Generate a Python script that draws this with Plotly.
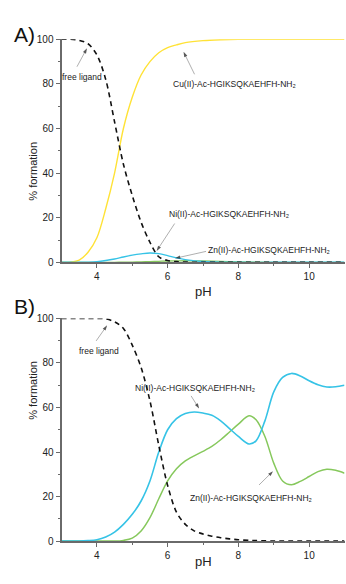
import plotly.graph_objects as go

# ---- species distribution, panel A (Cu/Ni/Zn competition) ----
ph_a = [3.0, 3.25, 3.5, 3.75, 4.0, 4.25, 4.5, 4.75, 5.0, 5.25, 5.5, 5.75,
        6.0, 6.25, 6.5, 7.0, 7.5, 8.0, 9.0, 10.0, 11.0]
free_a = [100, 100, 99.5, 98, 93, 82, 63, 44, 30, 18, 9, 2.5,
          0.8, 0.3, 0.1, 0, 0, 0, 0, 0, 0]
cu_a = [0, 0.1, 1, 4.5, 11, 24, 40, 60, 74, 84, 90, 94,
        96.3, 97.5, 98.5, 99.4, 99.8, 100, 100, 100, 100]
ni_a = [0, 0, 0, 0.1, 0.3, 0.8, 1.5, 2.4, 3.2, 3.8, 4.2, 3.9,
        3.0, 2.0, 1.2, 0.4, 0.1, 0, 0, 0, 0]
zn_a = [0, 0, 0, 0, 0, 0, 0, 0.05, 0.1, 0.2, 0.3, 0.45,
        0.6, 0.65, 0.7, 0.6, 0.4, 0.2, 0, 0, 0]

# ---- species distribution, panel B (Ni/Zn competition) ----
ph_b = [3.0, 3.5, 3.75, 4.0, 4.25, 4.5, 4.75, 5.0, 5.25, 5.5, 5.75, 6.0,
        6.25, 6.5, 6.75, 7.0, 7.25, 7.5, 7.75, 8.0, 8.3, 8.5, 8.75, 9.0,
        9.25, 9.5, 9.75, 10.0, 10.25, 10.5, 10.75, 11.0]
free_b = [100, 100, 100, 100, 99.8, 98.5, 95.5, 88, 78, 63, 43, 25,
          13, 7.5, 4.6, 3.2, 2.2, 1.5, 1.0, 0.6, 0.3, 0.2, 0.1, 0.05,
          0, 0, 0, 0, 0, 0, 0, 0]
ni_b = [0, 0, 0.2, 0.6, 1.8, 4, 7.5, 12, 18, 27, 40, 50,
        55, 57.3, 58, 57.5, 56.5, 54, 50.5, 47, 43.6, 45, 54, 67,
        73.5, 75.3, 74.2, 72, 70.2, 69.2, 69.3, 70]
zn_b = [0, 0, 0, 0, 0, 0, 0.3, 1.3, 4.5, 10.5, 19, 27,
        32.5, 36, 38.3, 40.3, 42.5, 45.5, 49, 52.5, 56.3, 54.5, 47, 35,
        27, 25.3, 26.8, 29, 31.2, 32.3, 31.8, 30.5]

x_ticks = [4, 6, 8, 10]
y_ticks = [0, 20, 40, 60, 80, 100]

LIGAND = "Ac-HGIKSQKAEHFH-NH\u2082"
YELLOW = "#FFE236"
CYAN = "#36C3E6"
GREEN = "#86C85C"
AXIS = "#6a6a6a"
FONT = "Liberation Sans, Arial, sans-serif"

W, H = 346, 584


def px(x):
    return x / W


def py(y):
    return 1 - y / H


fig = go.Figure()


def add_curves(xa, ya, ph, free, series):
    for vals, color, width in series:
        fig.add_trace(go.Scatter(
            x=ph, y=vals, xaxis=xa, yaxis=ya, mode="lines",
            line=dict(color=color, width=width, shape="spline", smoothing=0.9),
            showlegend=False, hoverinfo="skip"))
    fig.add_trace(go.Scatter(
        x=ph, y=free, xaxis=xa, yaxis=ya, mode="lines",
        line=dict(color="#111111", width=1.6, dash="5px,4px",
                  shape="spline", smoothing=0.9),
        showlegend=False, hoverinfo="skip"))


add_curves("x", "y", ph_a, free_a,
           [(cu_a, YELLOW, 1.4), (zn_a, GREEN, 1.3), (ni_a, CYAN, 1.4)])
add_curves("x2", "y2", ph_b, free_b,
           [(zn_b, GREEN, 1.5), (ni_b, CYAN, 1.6)])

x_dom = [px(61.5), px(344.5)]

axis_common = dict(
    showline=True, linecolor=AXIS, linewidth=2, showgrid=False, zeroline=False,
    ticks="outside", ticklen=4, tickwidth=1.2, tickcolor=AXIS,
    tickfont=dict(family=FONT, size=10, color="#222"),
)
x_minor = dict(tickvals=[5, 7, 9], ticks="outside", ticklen=2, tickcolor=AXIS)
y_minor = dict(tickvals=[10, 30, 50, 70, 90], ticks="outside", ticklen=2,
               tickcolor=AXIS)

fig.update_layout(
    width=W, height=H, margin=dict(l=0, r=0, t=0, b=0),
    paper_bgcolor="white", plot_bgcolor="white", showlegend=False,
    xaxis=dict(domain=x_dom, range=[3, 11], anchor="y", tickvals=x_ticks,
               minor=x_minor, **axis_common),
    yaxis=dict(domain=[py(261.7), py(34)], range=[0, 100], anchor="x",
               tickvals=y_ticks, minor=y_minor, **axis_common),
    xaxis2=dict(domain=x_dom, range=[3, 11], anchor="y2", tickvals=x_ticks,
                minor=x_minor, **axis_common),
    yaxis2=dict(domain=[py(546.3), py(319)], range=[0, 100], anchor="x2",
                tickvals=y_ticks, minor=y_minor, **axis_common),
)

ann = []

# panel letters and axis titles
for label, yy in (("A)", 15), ("B)", 307)):
    ann.append(dict(text=label, xref="paper", yref="paper", x=px(12), y=py(yy),
                    showarrow=False, font=dict(family=FONT, size=21, color="#111")))
for yy in (291, 577):
    ann.append(dict(text="pH", xref="paper", yref="paper", x=px(203), y=py(yy),
                    showarrow=False, font=dict(family=FONT, size=13, color="#222")))
for yy in (137, 425):
    ann.append(dict(text="% formation", xref="paper", yref="paper", x=px(25),
                    y=py(yy), textangle=-90, showarrow=False,
                    font=dict(family=FONT, size=11, color="#222")))


def label_arrow(xa, ya, text, tx, ty, tail, head):
    """Species label at (tx, ty) with a grey leader ending in a black head."""
    ann.append(dict(text=text, xref=xa, yref=ya, x=tx, y=ty, showarrow=False,
                    font=dict(family=FONT, size=8.5, color="#222")))
    fig.add_trace(go.Scatter(
        x=[tail[0], head[0]], y=[tail[1], head[1]], xaxis=xa, yaxis=ya,
        mode="lines+markers", line=dict(color="#9a9a9a", width=0.8),
        marker=dict(symbol=["circle", "arrow"], size=[0, 5.5], color="#111",
                    angleref="previous", line=dict(width=0)),
        showlegend=False, hoverinfo="skip"))


label_arrow("x", "y", "free ligand", 3.58, 83.3, (3.437, 87.7), (3.72, 96.0))
label_arrow("x", "y", "Cu(II)-" + LIGAND, 7.88, 79.8, (6.761, 84.3), (6.45, 94.4))
label_arrow("x", "y", "Ni(II)-" + LIGAND, 7.74, 21.8, (6.199, 17.4), (5.69, 5.1))
label_arrow("x", "y", "Zn(II)-" + LIGAND, 8.87, 5.6, (7.086, 4.9), (6.21, 1.8))

label_arrow("x2", "y2", "free ligand", 4.07, 85.5, (3.979, 89.9), (4.29, 96.9))
label_arrow("x2", "y2", "Ni(II)-" + LIGAND, 6.77, 68.7, (6.664, 65.2), (6.89, 59.5))
label_arrow("x2", "y2", "Zn(II)-" + LIGAND, 8.36, 19.2, (8.584, 25.2), (8.98, 31.4))

fig.update_layout(annotations=ann)
fig.write_html("out.html")
